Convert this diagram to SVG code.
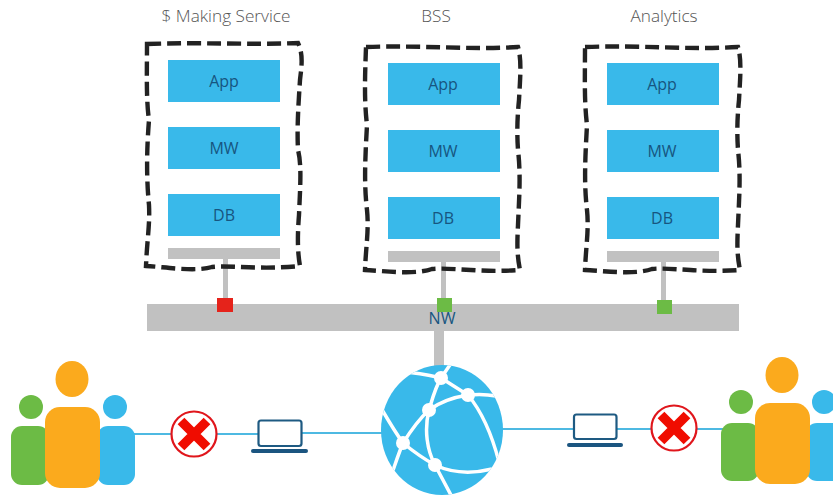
<svg xmlns="http://www.w3.org/2000/svg" width="833" height="495" viewBox="0 0 833 495">
<defs><style>
.title{font:300 17.200px "Open Sans","Liberation Sans",sans-serif;fill:#555;text-anchor:middle}
.lbl{font:16px "Open Sans","Liberation Sans",sans-serif;fill:#175580;text-anchor:middle}
.tier{fill:#39b9ea}
.gray{fill:#c1c1c1}
.dash{fill:none;stroke:#222;stroke-width:4.400;stroke-dasharray:14 6}
.link{stroke:#4db9e2;stroke-width:2;fill:none}
.lap{fill:#fff;stroke:#1e5a82;stroke-width:2.200}
.lapb{fill:#1b5580}
.net{fill:none;stroke:#fff;stroke-width:3.500}
.x{stroke:#f00c00;stroke-width:9.500}
.ring{fill:#fff;stroke:#e0161c;stroke-width:2.200}
</style>
<clipPath id="globe-clip"><ellipse cx="442" cy="430" rx="61" ry="65"/></clipPath></defs>
<rect width="833" height="495" fill="#fff"/>
<g id="connectors">
<rect class="gray" x="223" y="258" width="5" height="42"/>
<rect class="gray" x="441" y="262" width="5" height="38"/>
<rect class="gray" x="661" y="262" width="5" height="40"/>
<rect class="gray" x="434" y="328" width="10" height="40"/>
<path class="link" d="M134 434H258M302 433H384"/>
<path class="link" d="M500 429H574M617 429H724"/>
</g>
<g id="service-making">
<text class="title" x="226" y="22">$ Making Service</text>
<path class="dash" d="M147 44C200 42 250 45 298 43C304 55 301 70 300 80C298 110 297 130 298 150C302 165 300 190 299 215C297 240 298 255 300 266C260 270 230 265 212 267C195 272 165 267 146 266C147 240 150 225 149 205C146 175 147 145 149 120C146 100 147 70 147 44Z"/>
<rect class="tier" x="168" y="60" width="112" height="42"/><text class="lbl" x="224" y="87">App</text>
<rect class="tier" x="168" y="127" width="112" height="42"/><text class="lbl" x="224" y="154">MW</text>
<rect class="tier" x="168" y="194" width="112" height="42"/><text class="lbl" x="224" y="221">DB</text>
<rect class="gray" x="168" y="248" width="112" height="11"/>
</g>
<g id="service-bss">
<text class="title" x="436" y="22">BSS</text>
<path class="dash" d="M366 47C420 45 470 50 518 47C522 60 520 80 519 100C517 120 517 135 518 150C521 175 519 200 518 225C517 245 517 255 520 270C480 273 450 267 432 269C415 275 385 271 365 270C366 245 369 230 367 210C364 185 365 160 367 125C364 100 365 75 366 47Z"/>
<rect class="tier" x="388" y="63" width="112" height="42"/><text class="lbl" x="443" y="90">App</text>
<rect class="tier" x="388" y="130" width="112" height="42"/><text class="lbl" x="443" y="157">MW</text>
<rect class="tier" x="388" y="197" width="112" height="42"/><text class="lbl" x="443" y="224">DB</text>
<rect class="gray" x="388" y="251" width="112" height="11"/>
</g>
<g id="service-analytics">
<text class="title" x="664" y="22">Analytics</text>
<path class="dash" d="M585 47C640 45 690 50 738 47C742 60 740 80 739 100C737 120 737 135 738 150C741 175 739 200 738 225C737 245 737 255 740 270C700 273 670 267 652 269C635 275 605 271 585 270C586 245 589 230 587 210C584 185 585 160 587 125C584 100 585 75 585 47Z"/>
<rect class="tier" x="607" y="63" width="112" height="42"/><text class="lbl" x="662" y="90">App</text>
<rect class="tier" x="607" y="130" width="112" height="42"/><text class="lbl" x="662" y="157">MW</text>
<rect class="tier" x="607" y="197" width="112" height="42"/><text class="lbl" x="662" y="224">DB</text>
<rect class="gray" x="607" y="251" width="112" height="11"/>
</g>
<g id="network">
<rect class="gray" x="147" y="304" width="592" height="27"/>
<rect x="217" y="298" width="16" height="14" fill="#e5231b"/>
<rect x="437" y="298" width="15" height="14" fill="#6cbb45"/>
<rect x="657" y="300" width="15" height="14" fill="#6cbb45"/>
<text class="lbl" x="442" y="324">NW</text>
</g>
<g id="globe">
<ellipse class="tier" cx="442" cy="430" rx="61" ry="65"/>
<g clip-path="url(#globe-clip)">
<path class="net" d="M405 372C420 373 432 376 441 378L468 395C483 413 492 435 499 462"/>
<path class="net" d="M452 362L441 378C435 388 432 400 429 410C418 420 410 432 403 443C398 455 395 465 391 476"/>
<path class="net" d="M429 410C440 402 455 397 468 395C478 394 486 394 496 396"/>
<path class="net" d="M429 410C424 430 427 450 435 465L452 497"/>
<path class="net" d="M381 408C388 420 395 432 403 443C414 452 424 459 435 465C452 473 472 474 492 469"/>
<circle cx="441" cy="378" r="7" fill="#fff"/><circle cx="468" cy="395" r="7" fill="#fff"/><circle cx="429" cy="410" r="7" fill="#fff"/><circle cx="403" cy="443" r="7" fill="#fff"/><circle cx="435" cy="465" r="7" fill="#fff"/>
</g>
</g>
<g id="users-left">
<circle cx="115" cy="407" r="12" fill="#39b9ea"/><rect x="97" y="426" width="38" height="59" rx="11" fill="#39b9ea"/>
<circle cx="31" cy="407" r="12" fill="#6cbb45"/><rect x="11" y="426" width="38" height="59" rx="11" fill="#6cbb45"/>
<ellipse cx="72" cy="379" rx="16.500" ry="18" fill="#fbaa1d"/><rect x="45" y="407" width="55" height="81" rx="15" fill="#fbaa1d"/>
</g>
<g id="block-left"><circle class="ring" cx="194" cy="434" r="22.500"/><path class="x" d="M181 421L207 447M207 421L181 447"/></g>
<g id="laptop-left"><rect class="lap" x="258.500" y="420.500" width="43" height="25.500" rx="2.500"/><rect class="lapb" x="251" y="449" width="57" height="4" rx="2"/></g>
<g id="laptop-right"><rect class="lap" x="574" y="414.500" width="42.500" height="24.500" rx="2.500"/><rect class="lapb" x="567" y="443" width="56" height="4" rx="2"/></g>
<g id="block-right"><circle class="ring" cx="674" cy="428" r="22.500"/><path class="x" d="M661 415L687 441M687 415L661 441"/></g>
<g id="users-right">
<circle cx="824" cy="402" r="12" fill="#39b9ea"/><rect x="806" y="423" width="38" height="58" rx="11" fill="#39b9ea"/>
<circle cx="741" cy="402" r="12" fill="#6cbb45"/><rect x="721" y="423" width="38" height="58" rx="11" fill="#6cbb45"/>
<ellipse cx="782" cy="375" rx="16.500" ry="18" fill="#fbaa1d"/><rect x="755" y="403" width="55" height="81" rx="15" fill="#fbaa1d"/>
</g>
</svg>
